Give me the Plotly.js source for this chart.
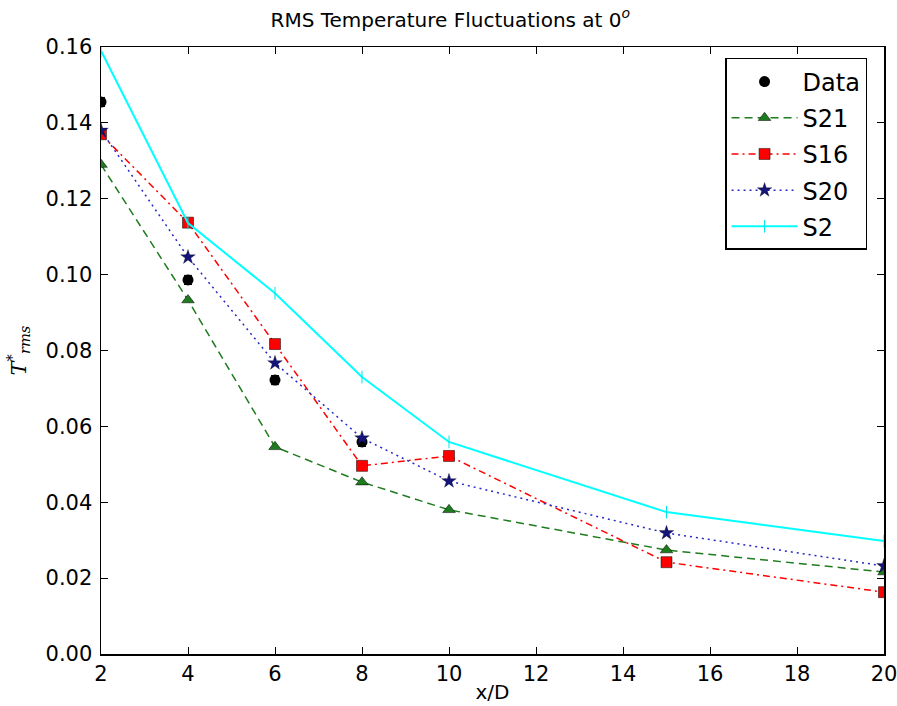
<!DOCTYPE html>
<html>
<head>
<meta charset="utf-8">
<script src="https://cdn.plot.ly/plotly-3.0.1.min.js"></script>
<style>html,body{margin:0;padding:0;background:#fff;}#chart{width:897px;height:706px;}</style>
</head>
<body>
<div id="chart"></div>
<script>
// x/D positions
const xData = [2, 4, 6, 8];
const yData = [0.1455, 0.0986, 0.0722, 0.0559];
const errData = [0.0012, 0.0012, 0.0012, 0.0012];

const xSim = [2, 4, 6, 8, 10, 15, 20];
const yS21 = [0.129, 0.0933, 0.0546, 0.0453, 0.0380, 0.0274, 0.0216];
const yS16 = [0.137, 0.1137, 0.0817, 0.0496, 0.0522, 0.0242, 0.0163];
const yS20 = [0.138, 0.1046, 0.0767, 0.0569, 0.0456, 0.0319, 0.0232];
const yS2  = [0.159, 0.1136, 0.0951, 0.0730, 0.0559, 0.0374, 0.0298];

const xTicks = [2, 4, 6, 8, 10, 12, 14, 16, 18, 20];
const yTicks = [0.00, 0.02, 0.04, 0.06, 0.08, 0.10, 0.12, 0.14, 0.16];

const traces = [
  {x: xData, y: yData, name: 'Data', legendgroup: 'a', mode: 'markers', type: 'scatter',
   marker: {symbol: 'circle', size: 11, color: '#000000'},
   error_y: {type: 'data', array: errData, color: '#000000', thickness: 1, width: 4}},
  {x: xSim, y: yS21, name: 'S21', legendgroup: 'b', mode: 'lines+markers', type: 'scatter',
   line: {color: '#1e7b1e', dash: '8px,5px', width: 1.5},
   marker: {symbol: 'triangle-up', size: 11, color: '#1e7b1e', line: {color: '#000', width: 0.5}}},
  {x: xSim, y: yS16, name: 'S16', legendgroup: 'c', mode: 'lines+markers', type: 'scatter',
   line: {color: '#ff0000', dash: '7px,4px,2px,4px', width: 1.5},
   marker: {symbol: 'square', size: 11, color: '#ff0000', line: {color: '#000', width: 0.5}}},
  {x: xSim, y: yS20, name: 'S20', legendgroup: 'd', mode: 'lines+markers', type: 'scatter',
   line: {color: '#2828c8', dash: '2px,4px', width: 1.5},
   marker: {symbol: 'star', size: 11, color: '#14147a', line: {color: '#000', width: 0.3}}},
  {x: xSim, y: yS2, name: 'S2', legendgroup: 'e', mode: 'lines+markers', type: 'scatter',
   line: {color: '#00ffff', width: 2},
   marker: {symbol: 'line-ns-open', size: 9, color: '#00e5e5', line: {color: '#00e5e5', width: 1}}}
];

const axisFont = {family: 'DejaVu Sans, sans-serif', size: 21, color: '#000'};
const layout = {
  width: 897, height: 706,
  paper_bgcolor: '#fff', plot_bgcolor: '#fff',
  margin: {l: 101, r: 13, t: 47, b: 52},
  font: {family: 'DejaVu Sans, sans-serif', color: '#000'},
  title: {text: 'RMS Temperature Fluctuations at 0<sup><i>o</i></sup>',
          font: {family: 'DejaVu Sans, sans-serif', size: 20, color: '#000'},
          x: 0.502, xref: 'container', xanchor: 'center', y: 0.972, yanchor: 'middle'},
  xaxis: {range: [2, 20], tickvals: xTicks, ticktext: xTicks.map(String),
          ticks: 'inside', ticklen: 7, tickwidth: 1, tickcolor: '#000',
          showline: true, linecolor: '#000', linewidth: 1.5, mirror: 'ticks',
          showgrid: false, zeroline: false, tickfont: axisFont, ticklabeloverflow: 'allow',
          title: {text: 'x/D', font: {family: 'DejaVu Sans, sans-serif', size: 20, color: '#000'}, standoff: 0}},
  yaxis: {range: [0, 0.16], tickvals: yTicks, ticktext: yTicks.map(v => v.toFixed(2)),
          ticks: 'inside', ticklen: 7, tickwidth: 1, tickcolor: '#000',
          showline: true, linecolor: '#000', linewidth: 1.5, mirror: 'ticks',
          showgrid: false, zeroline: false, tickfont: axisFont, ticklabelstandoff: 3,
          title: {text: '<i>T</i><sup>*</sup><sub><i>rms</i></sub>', font: {family: 'DejaVu Serif, serif', size: 21, color: '#000'}, standoff: 13}},
  legend: {x: 0.797, y: 0.982, xanchor: 'left', yanchor: 'top',
           bordercolor: '#000', borderwidth: 1.5, bgcolor: '#fff',
           font: {family: 'DejaVu Sans, sans-serif', size: 24, color: '#000'},
           itemwidth: 66, tracegroupgap: 2},
  showlegend: true
};

Plotly.newPlot('chart', traces, layout, {displayModeBar: false, staticPlot: true});
</script>
</body>
</html>
